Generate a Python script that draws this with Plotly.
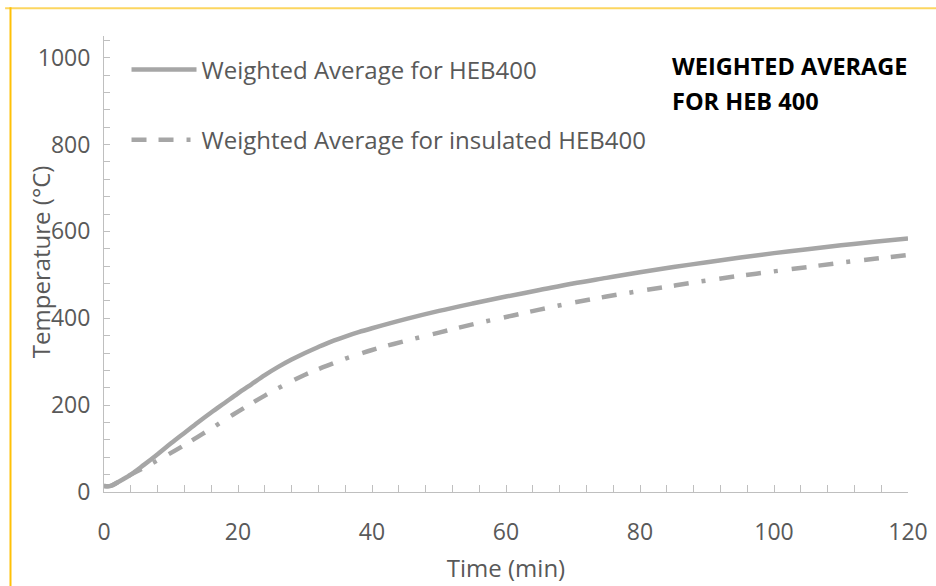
import plotly.graph_objects as go

# Time (min) and weighted average steel temperature (°C)
time_min = [0, 1, 2, 4, 6, 8, 10, 12, 14, 16, 18, 20, 22, 24, 26, 28, 30, 32, 34, 36, 38, 40,
            45, 50, 55, 60, 65, 70, 75, 80, 85, 90, 95, 100, 105, 110, 115, 120]
temp_heb400 = [14, 14, 22, 40, 63, 87, 112, 136, 160, 183, 205, 227, 248, 269, 288, 305, 320, 334, 347, 358, 368, 377,
               398, 417, 434, 450, 465, 480, 493, 506, 518, 529, 540, 550, 559, 568, 576, 584]
temp_heb400_insulated = [14, 14, 22, 40, 56, 73, 90, 108, 127, 146, 166, 185, 204, 222, 239, 255, 270, 283, 295, 307, 317, 327,
                         348, 367, 386, 403, 420, 436, 450, 463, 475, 487, 498, 508, 518, 528, 537, 546]

series_names = ["Weighted Average for HEB400", "Weighted Average for insulated HEB400"]
x_ticks = [0, 20, 40, 60, 80, 100, 120]
y_ticks = [0, 200, 400, 600, 800, 1000]

LINE_GREY = "#A6A6A6"
TEXT_GREY = "#595959"
AXIS_GREY = "#BFBFBF"
FONT = "Open Sans, Noto Sans, sans-serif"

fig = go.Figure()
fig.add_trace(go.Scatter(
    x=time_min, y=temp_heb400, mode="lines", name=series_names[0],
    legendgroup="a", line=dict(color=LINE_GREY, width=4.5, shape="spline"),
))
fig.add_trace(go.Scatter(
    x=time_min, y=temp_heb400_insulated, mode="lines", name=series_names[1],
    legendgroup="b",
    line=dict(color=LINE_GREY, width=4.5, shape="spline", dash="15px,12px,15px,13px,4px,14px"),
))

fig.update_layout(
    width=936, height=586,
    margin=dict(l=104, r=28, t=36, b=94),
    paper_bgcolor="white", plot_bgcolor="white",
    font=dict(family=FONT, size=23, color=TEXT_GREY),
    showlegend=True,
    legend=dict(
        x=0.028, y=0.975, xanchor="left", yanchor="top",
        bgcolor="rgba(0,0,0,0)", tracegroupgap=36, itemwidth=65,
        font=dict(family=FONT, size=24, color=TEXT_GREY),
    ),
    xaxis=dict(
        range=[0, 120], tickvals=x_ticks, showgrid=False, zeroline=False,
        showline=True, linecolor=AXIS_GREY, linewidth=1, automargin=False,
        ticks="inside", ticklen=7, tickcolor=AXIS_GREY, ticklabelstandoff=19,
        minor=dict(ticks="inside", dtick=4, ticklen=7, tickcolor=AXIS_GREY),
        tickfont=dict(family=FONT, size=23, color=TEXT_GREY),
        title=dict(text="Time (min)", font=dict(family=FONT, size=24, color=TEXT_GREY), standoff=14),
    ),
    yaxis=dict(
        range=[0, 1050], tickvals=y_ticks, showgrid=False, zeroline=False,
        showline=True, linecolor=AXIS_GREY, linewidth=1, automargin=False,
        ticks="inside", ticklen=6, tickcolor=AXIS_GREY, ticklabelstandoff=8,
        minor=dict(ticks="inside", dtick=40, ticklen=6, tickcolor=AXIS_GREY),
        tickfont=dict(family=FONT, size=23, color=TEXT_GREY),
    ),
)

# Rotated y-axis title sitting over the tick labels
fig.add_annotation(
    text="Temperature (°C)", textangle=-90, showarrow=False,
    xref="paper", yref="paper", x=-0.0796, y=0.504, xanchor="center", yanchor="middle",
    font=dict(family=FONT, size=24, color=TEXT_GREY),
)

# Chart heading in the top-right corner, one annotation per line
heading_lines = ["WEIGHTED AVERAGE", "FOR HEB 400"]
for line_text, y_pos in zip(heading_lines, [0.934, 0.858]):
    fig.add_annotation(
        text=f"<b>{line_text}</b>", showarrow=False, align="left",
        xref="paper", yref="paper", x=0.704, y=y_pos, xanchor="left", yanchor="middle",
        font=dict(family="Open Sans, sans-serif", size=23.5, color="black"),
    )

# Frame lines along the top and left edges
fig.add_shape(type="line", xref="paper", yref="paper",
              x0=-0.123, x1=1.05, y0=1.061, y1=1.061,
              line=dict(color="#FCD660", width=2))
fig.add_shape(type="line", xref="paper", yref="paper",
              x0=-0.1163, x1=-0.1163, y0=-0.21, y1=1.063,
              line=dict(color="#FFC107", width=2))

fig.write_html("out.html")
